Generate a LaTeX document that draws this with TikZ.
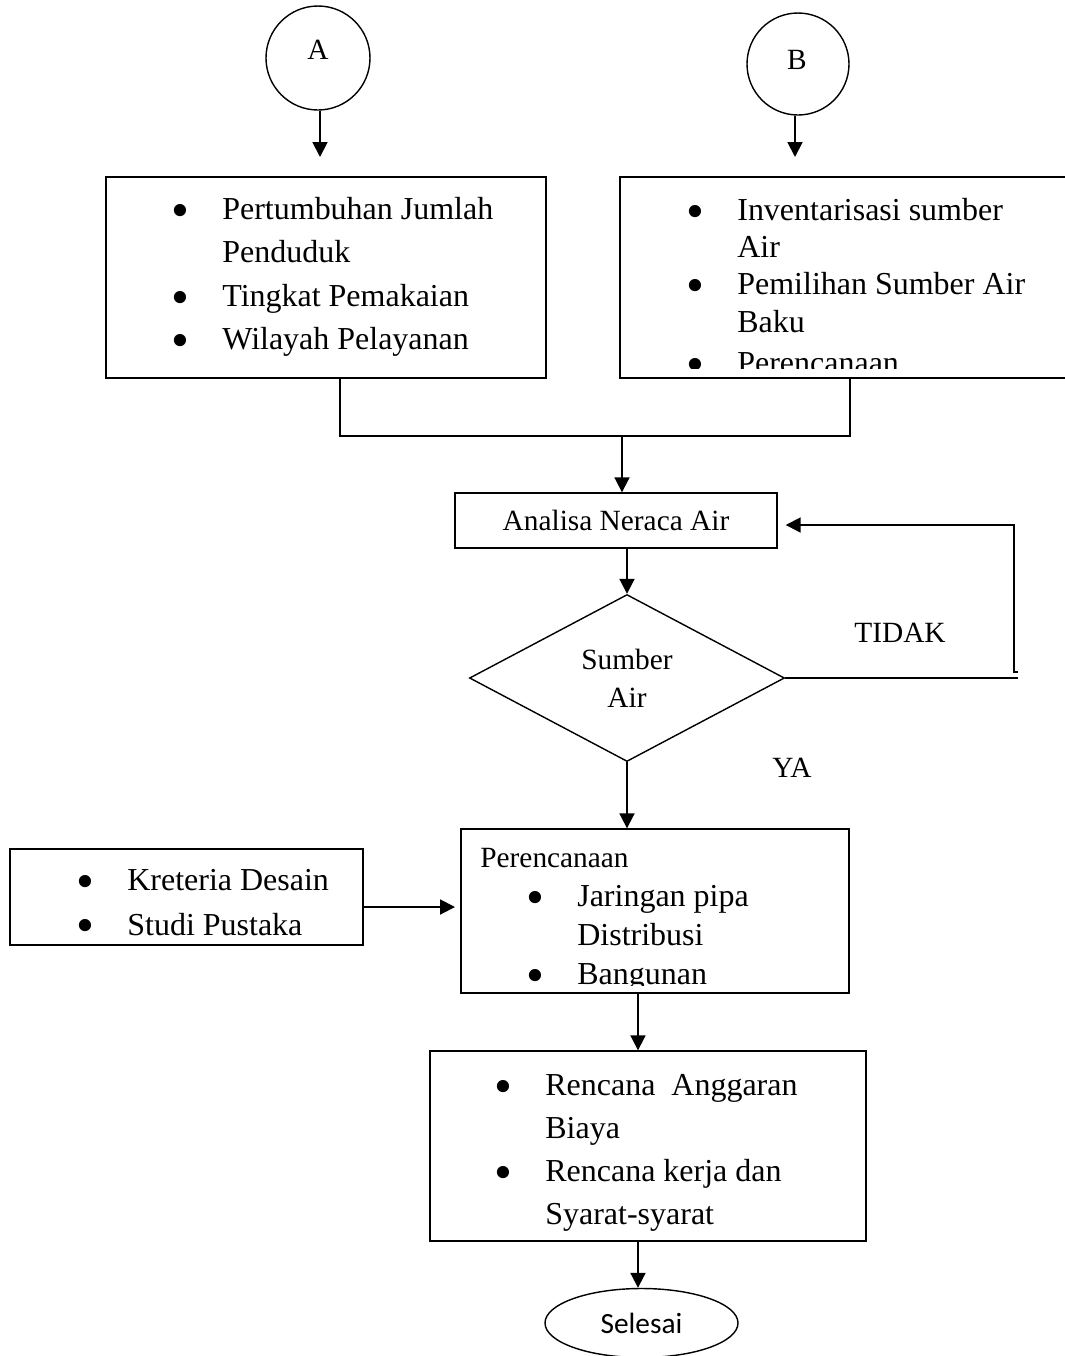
\documentclass[tikz,border=0pt]{standalone}
\usepackage{fontspec}
\usepackage{graphicx}
\setmainfont{Liberation Serif}
\newfontfamily\calibri{Carlito}
\usetikzlibrary{calc, arrows.meta, shapes.geometric, positioning}

\newcommand{\butir}{\llap{\smash{\raisebox{-0.25em}{\scalebox{1.6}{\textbullet}}}\hspace{0.66cm}}}

\begin{document}
\begin{tikzpicture}[
  kotak/.style={draw, line width=0.8pt, inner sep=0pt},
  besar/.style={inner sep=0pt, font=\fontsize{18.2}{24.8}\selectfont},
  kecil/.style={inner sep=0pt, font=\fontsize{16.7}{21.5}\selectfont},
  garis/.style={line width=0.9pt},
  panah/.style={line width=1.1pt, -{Triangle[length=8.5pt, width=8.5pt]}},
]
  % batas gambar
  \clip (0,0) rectangle (21.3,-27.12);

  % konektor A dan B
  \node[kotak, circle, minimum size=2.08cm] (A) at (6.36,-1.16) {};
  \node[kecil] (tA) at (6.36,-1.0) {A};
  \node[kotak, circle, minimum size=2.04cm] (B) at (15.96,-1.28) {};
  \node[kecil] (tB) at (15.94,-1.2) {B};
  \coordinate (aA) at (6.4,-3.14);
  \coordinate (aB) at (15.9,-3.14);
  \draw[panah] (A.south -| aA) -- (aA);
  \draw[panah] (B.south -| aB) -- (aB);

  % kotak kebutuhan air
  \node[kotak, minimum width=8.8cm, minimum height=4.02cm] (keb) at (6.52,-5.55) {};
  \node[besar, anchor=base west] (tkeb) at (4.44,-4.38) {\begin{tabular}[t]{@{}l@{}}
    \butir Pertumbuhan Jumlah\\ Penduduk\\ \butir Tingkat Pemakaian\\ \butir Wilayah Pelayanan
  \end{tabular}};

  % kotak sumber air (terpotong)
  \node[kotak, minimum width=9.4cm, minimum height=4.02cm] (sum) at (17.1,-5.55) {};
  \begin{scope}
    \clip (sum.north west) rectangle ([yshift=0.2cm]sum.south east);
    \node[besar, anchor=base west, font=\fontsize{18.2}{21.3}\selectfont] (tsum) at (14.74,-4.40) {\begin{tabular}[t]{@{}l@{}}
      \butir Inventarisasi sumber\\ Air\\ \butir Pemilihan Sumber Air\\ Baku\\[2pt] \butir Perencanaan
    \end{tabular}};
  \end{scope}

  % gabungan ke neraca
  \coordinate (g1) at (6.8,-8.72);
  \coordinate (g2) at (17.0,-8.72);
  \coordinate (g0) at (12.44,-8.72);
  \draw[garis] (keb.south -| g1) -- (g1) -- (g2) -- (sum.south -| g2);

  \node[kotak, kecil, minimum width=6.44cm, minimum height=1.1cm] (neraca) at (12.32,-10.41) {Analisa Neraca Air};
  \draw[panah] (g0) -- (g0 |- neraca.north);

  \node[kotak, kecil, diamond, align=center, minimum width=6.3cm, minimum height=3.34cm] (dia) at (12.54,-13.56) {Sumber\\Air};
  \draw[panah] (dia.north |- neraca.south) -- (dia.north);

  % jalur TIDAK
  \coordinate (t1) at (20.36,-13.6);
  \coordinate (t2) at (20.28,-13.44);
  \coordinate (t3) at (20.28,-10.5);
  \draw[garis] (dia.east) -- (dia.east -| t1);
  \draw[panah] ([xshift=0.08cm]t2) -- (t2) -- (t3) -- ([xshift=0.16cm]neraca.east |- t3);
  \node[kecil] (tidak) at (18.0,-12.66) {TIDAK};
  \node[kecil] (ya) at (15.84,-15.36) {YA};

  % perencanaan
  \node[kotak, minimum width=7.76cm, minimum height=3.28cm] (ren) at (13.1,-18.22) {};
  \draw[panah] (dia.south) -- (dia.south |- ren.north);
  \begin{scope}
    \clip (ren.north west) rectangle ([yshift=0.16cm]ren.south east);
    \node[kecil, anchor=base west] (tren) at (9.6,-17.34) {Perencanaan};
    \node[besar, anchor=base west, font=\fontsize{18.2}{22.2}\selectfont] (tren2) at (11.54,-18.12) {\begin{tabular}[t]{@{}l@{}}
      \butir Jaringan pipa\\ Distribusi\\ \butir Bangunan
    \end{tabular}};
  \end{scope}

  % kriteria
  \node[kotak, minimum width=7.06cm, minimum height=1.92cm] (krit) at (3.73,-17.94) {};
  \node[besar, anchor=base west, font=\fontsize{18.2}{25.6}\selectfont] (tkrit) at (2.54,-17.8) {\begin{tabular}[t]{@{}l@{}}
    \butir Kreteria Desain\\ \butir Studi Pustaka
  \end{tabular}};
  \draw[panah, shorten >=3pt] ([yshift=-0.2cm]krit.east) -- ([yshift=-0.2cm]krit.east -| ren.west);

  % rencana anggaran
  \node[kotak, minimum width=8.72cm, minimum height=3.8cm] (rab) at (12.96,-22.92) {};
  \node[besar, anchor=base west, font=\fontsize{18.2}{24.6}\selectfont] (trab) at (10.9,-21.9) {\begin{tabular}[t]{@{}l@{}}
    \butir Rencana~ Anggaran\\ Biaya\\ \butir Rencana kerja dan\\ Syarat-syarat
  \end{tabular}};
  \coordinate (r0) at (12.76,0);
  \draw[panah] (ren.south -| r0) -- (rab.north -| r0);

  % selesai
  \node[kotak, ellipse, minimum width=3.86cm, minimum height=1.38cm, font=\calibri\fontsize{16.7}{20}\selectfont] (selesai) at (12.83,-26.46) {Selesai};
  \draw[panah] (rab.south -| r0) -- (selesai.north -| r0);
\end{tikzpicture}
\end{document}
